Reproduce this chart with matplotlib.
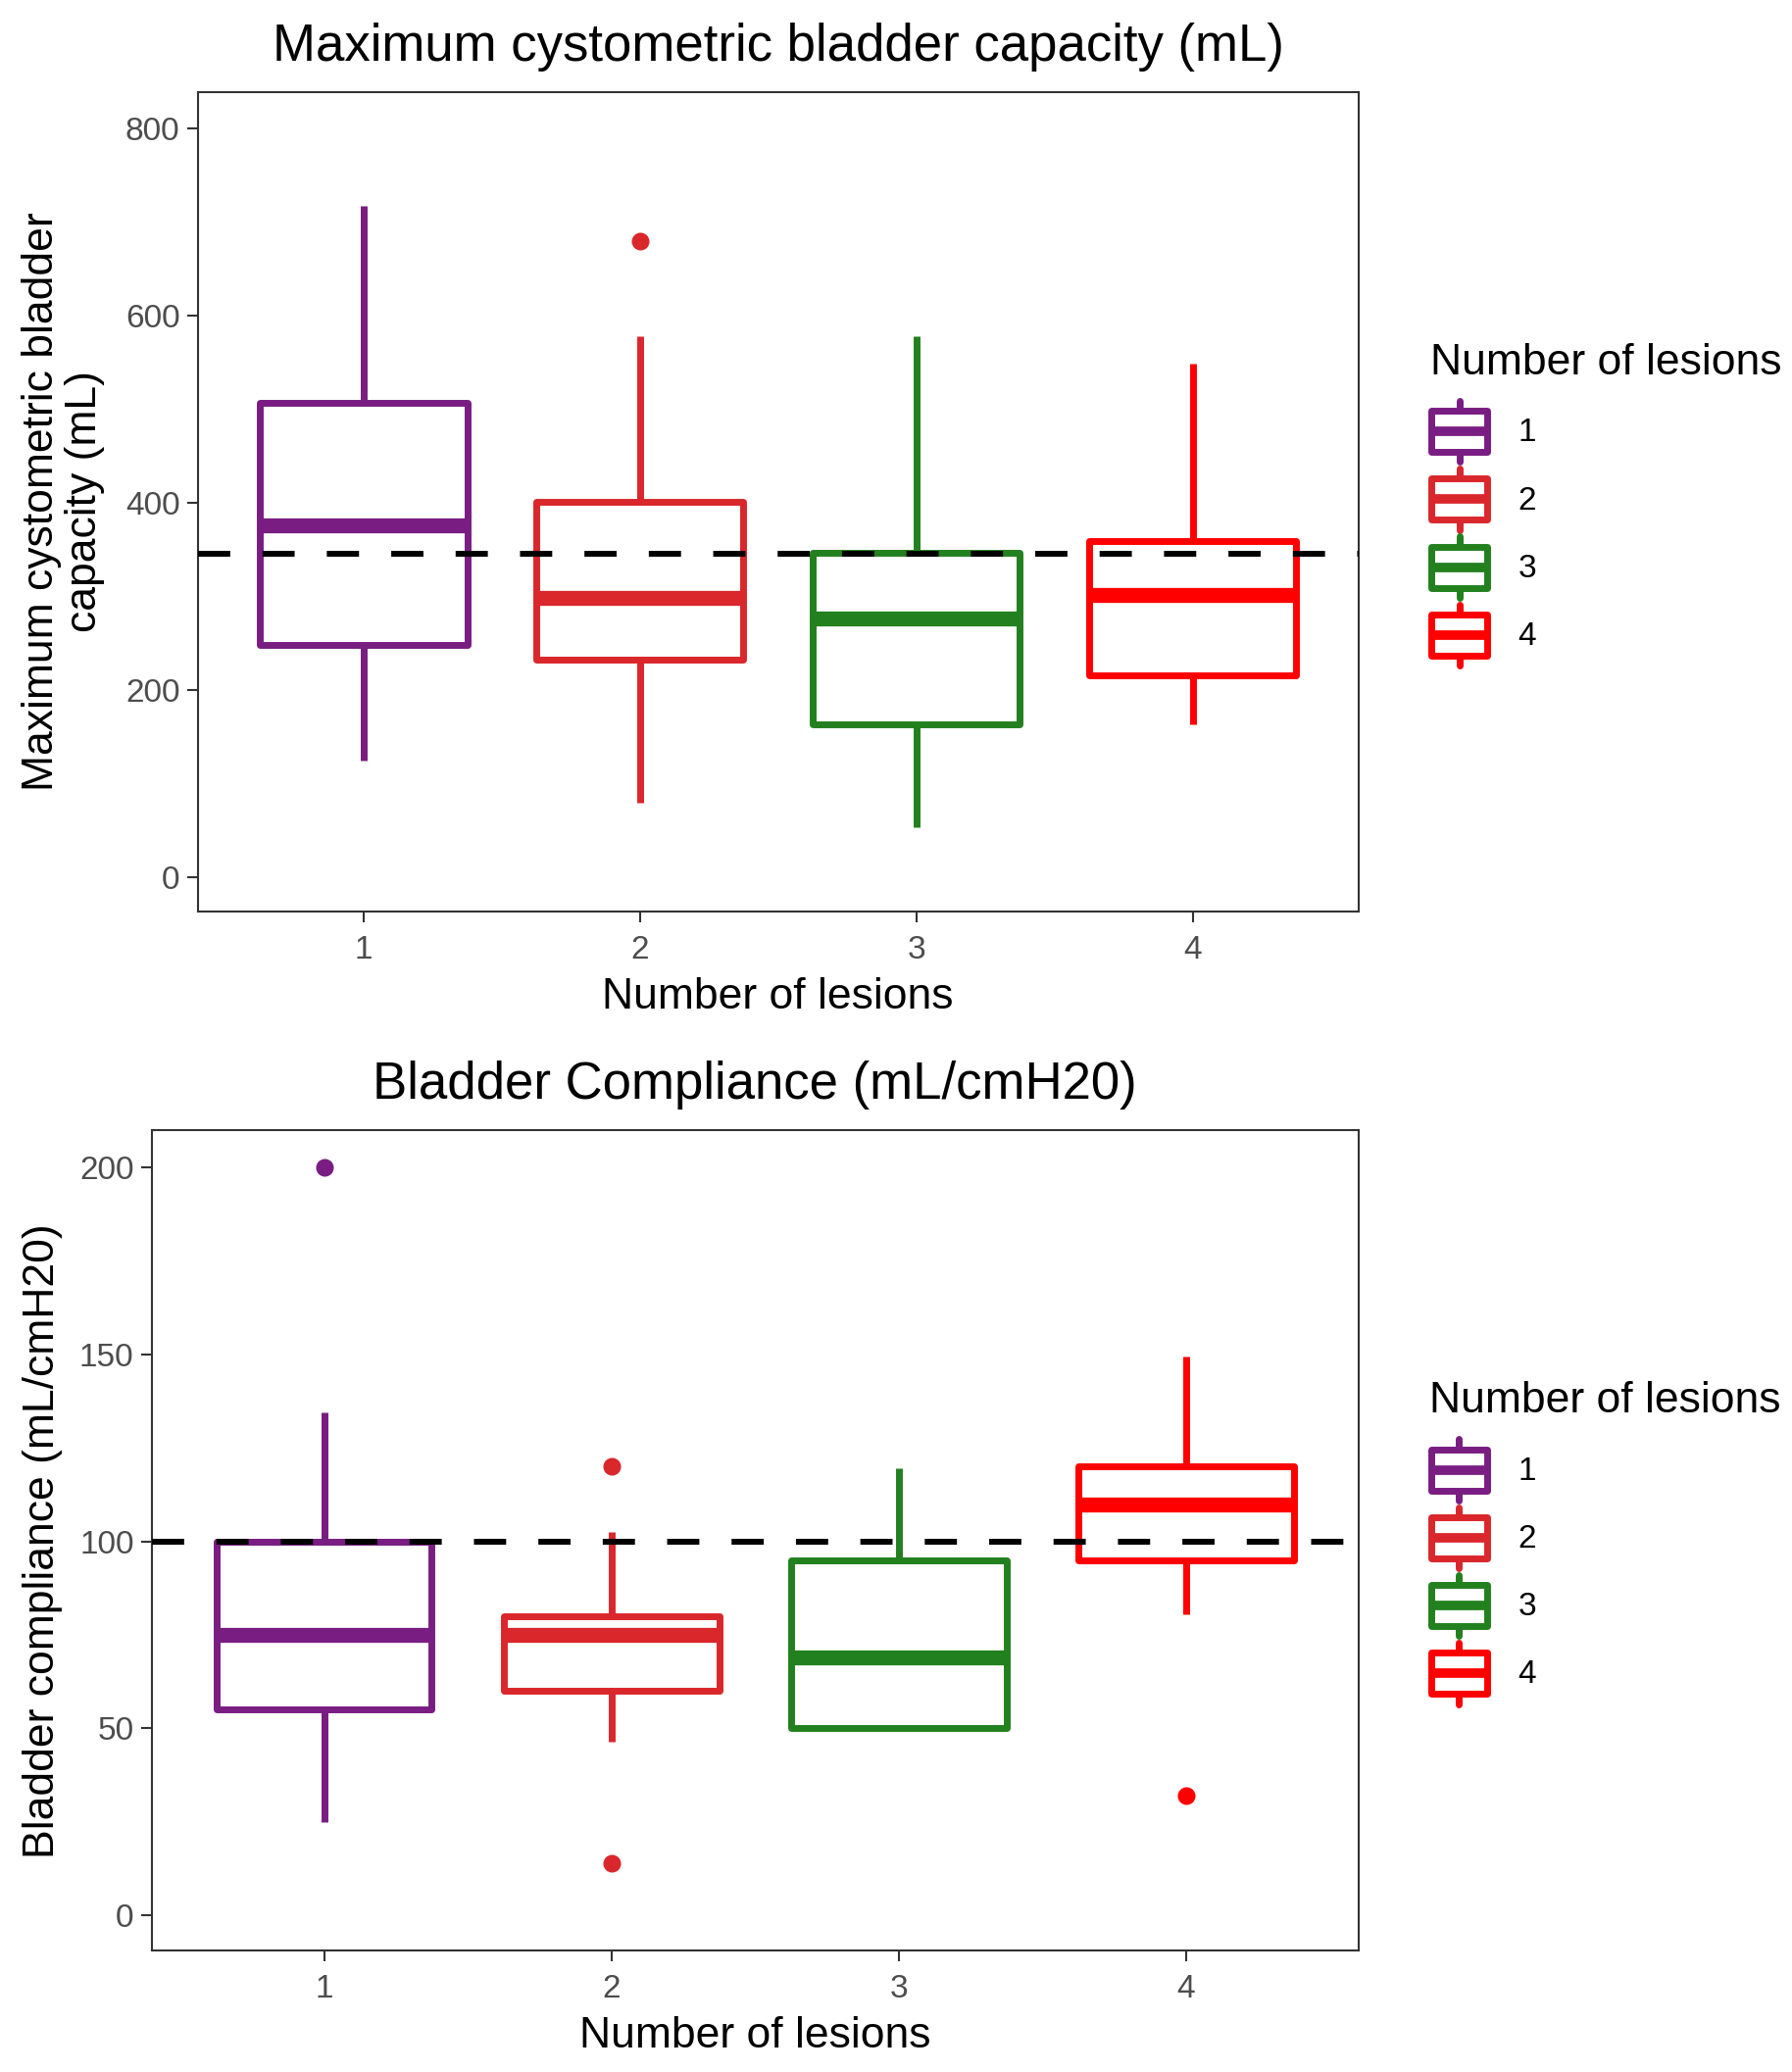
import matplotlib
matplotlib.use("Agg")
import matplotlib.pyplot as plt
from matplotlib.legend_handler import HandlerBase
from matplotlib.patches import Rectangle, Patch
from matplotlib.lines import Line2D

plt.rcParams['font.family'] = ['Liberation Sans', 'DejaVu Sans']

# groups and colours
groups = [1, 2, 3, 4]
colors = ['#791D82', '#D9272C', '#23801E', '#FF0000']

# bladder capacity (mL): whisker low, Q1, median, Q3, whisker high
cap_low = [124, 79, 53, 163]
cap_q1 = [248, 232, 163, 215]
cap_med = [376, 298, 276, 301]
cap_q3 = [507, 401, 346, 359]
cap_high = [718, 578, 578, 549]
cap_fliers = [[], [680], [], []]
cap_ref = 345

# bladder compliance (mL/cmH20)
comp_low = [25, 46.5, 50, 80.5]
comp_q1 = [55, 60, 50, 95]
comp_med = [75, 75, 69, 110]
comp_q3 = [100, 80, 95, 120]
comp_high = [134.5, 102.5, 119.5, 149.5]
comp_fliers = [[200], [120, 14], [], [32]]
comp_ref = 100

LW = 5.0


class BoxHandler(HandlerBase):
    def create_artists(self, legend, orig_handle, xdescent, ydescent,
                       width, height, fontsize, trans):
        c = orig_handle.get_edgecolor()
        x0, y0 = -xdescent, -ydescent
        cx = x0 + width / 2
        cy = y0 + height / 2
        bh = height * 0.67
        rect = Rectangle((x0 + width * 0.03, cy - bh / 2), width * 0.94, bh,
                         facecolor='white', edgecolor=c, lw=LW, transform=trans,
                         joinstyle='round')
        med = Line2D([x0 + width * 0.03, x0 + width * 0.97], [cy, cy],
                     color=c, lw=LW * 1.4, transform=trans, solid_capstyle='butt')
        w1 = Line2D([cx, cx], [cy + bh / 2, y0 + height], color=c,
                    lw=LW, transform=trans, solid_capstyle='round')
        w2 = Line2D([cx, cx], [cy - bh / 2, y0], color=c,
                    lw=LW, transform=trans, solid_capstyle='round')
        return [w1, w2, rect, med]


def draw_panel(ax, low, q1, med, q3, high, fliers, ref, title, ylabel, yticks, ylim,
               legx, ypad):
    stats = []
    for i in range(len(groups)):
        stats.append(dict(whislo=low[i], q1=q1[i], med=med[i], q3=q3[i],
                          whishi=high[i], fliers=fliers[i], label=str(groups[i])))
    for i, st in enumerate(stats):
        c = colors[i]
        ax.bxp([st], positions=[groups[i]], widths=0.75, showcaps=False,
               patch_artist=True,
               boxprops=dict(facecolor='white', edgecolor=c, lw=LW, joinstyle='round'),
               whiskerprops=dict(color=c, lw=LW, solid_capstyle='butt'),
               medianprops=dict(color=c, lw=LW * 2.2, solid_capstyle='butt'),
               flierprops=dict(marker='o', markerfacecolor=c, markeredgecolor=c,
                               markersize=12))
    ax.axhline(ref, color='black', lw=4.3, dashes=(5.5, 5.5), zorder=10)
    ax.set_xlim(0.4, 4.6)
    ax.set_ylim(*ylim)
    ax.set_yticks(yticks)
    ax.set_xticks(groups)
    ax.set_xticklabels([str(g) for g in groups])
    ax.tick_params(axis='both', labelsize=24, labelcolor='#4D4D4D', color='#333333',
                   length=8, width=1.5, pad=5)
    ax.tick_params(axis='x', pad=9)
    for s in ax.spines.values():
        s.set_color('#333333')
        s.set_linewidth(1.5)
    ax.set_title(title, fontsize=38, pad=23)
    ax.set_xlabel('Number of lesions', fontsize=32, labelpad=9)
    ax.set_ylabel(ylabel, fontsize=32, labelpad=ypad, linespacing=1.1)
    handles = [Patch(edgecolor=c, facecolor='white') for c in colors]
    leg = ax.legend(handles, [str(g) for g in groups], title='Number of lesions',
                    handler_map={Patch: BoxHandler()}, loc='upper left',
                    bbox_to_anchor=(legx, 0.694), frameon=False, fontsize=24,
                    title_fontsize=32, handlelength=1.8, handleheight=2.51,
                    labelspacing=0.2, handletextpad=0.9, borderaxespad=0,
                    borderpad=0)
    leg._legend_box.align = 'left'
    leg._legend_box.sep = 13


fig = plt.figure(figsize=(18.28, 21.14), dpi=100)
ax1 = fig.add_axes([0.1103, 0.5601, 0.6478, 0.3954])
ax2 = fig.add_axes([0.0846, 0.0585, 0.6735, 0.3960])

draw_panel(ax1, cap_low, cap_q1, cap_med, cap_q3, cap_high, cap_fliers, cap_ref,
           'Maximum cystometric bladder capacity (mL)',
           'Maximum cystometric bladder\ncapacity (mL)',
           [0, 200, 400, 600, 800], (-37, 839), 1.0615, 15)
draw_panel(ax2, comp_low, comp_q1, comp_med, comp_q3, comp_high, comp_fliers, comp_ref,
           'Bladder Compliance (mL/cmH20)',
           'Bladder compliance (mL/cmH20)',
           [0, 50, 100, 150, 200], (-9.5, 210), 1.059, 12)

fig.savefig('out.png', dpi=100)
